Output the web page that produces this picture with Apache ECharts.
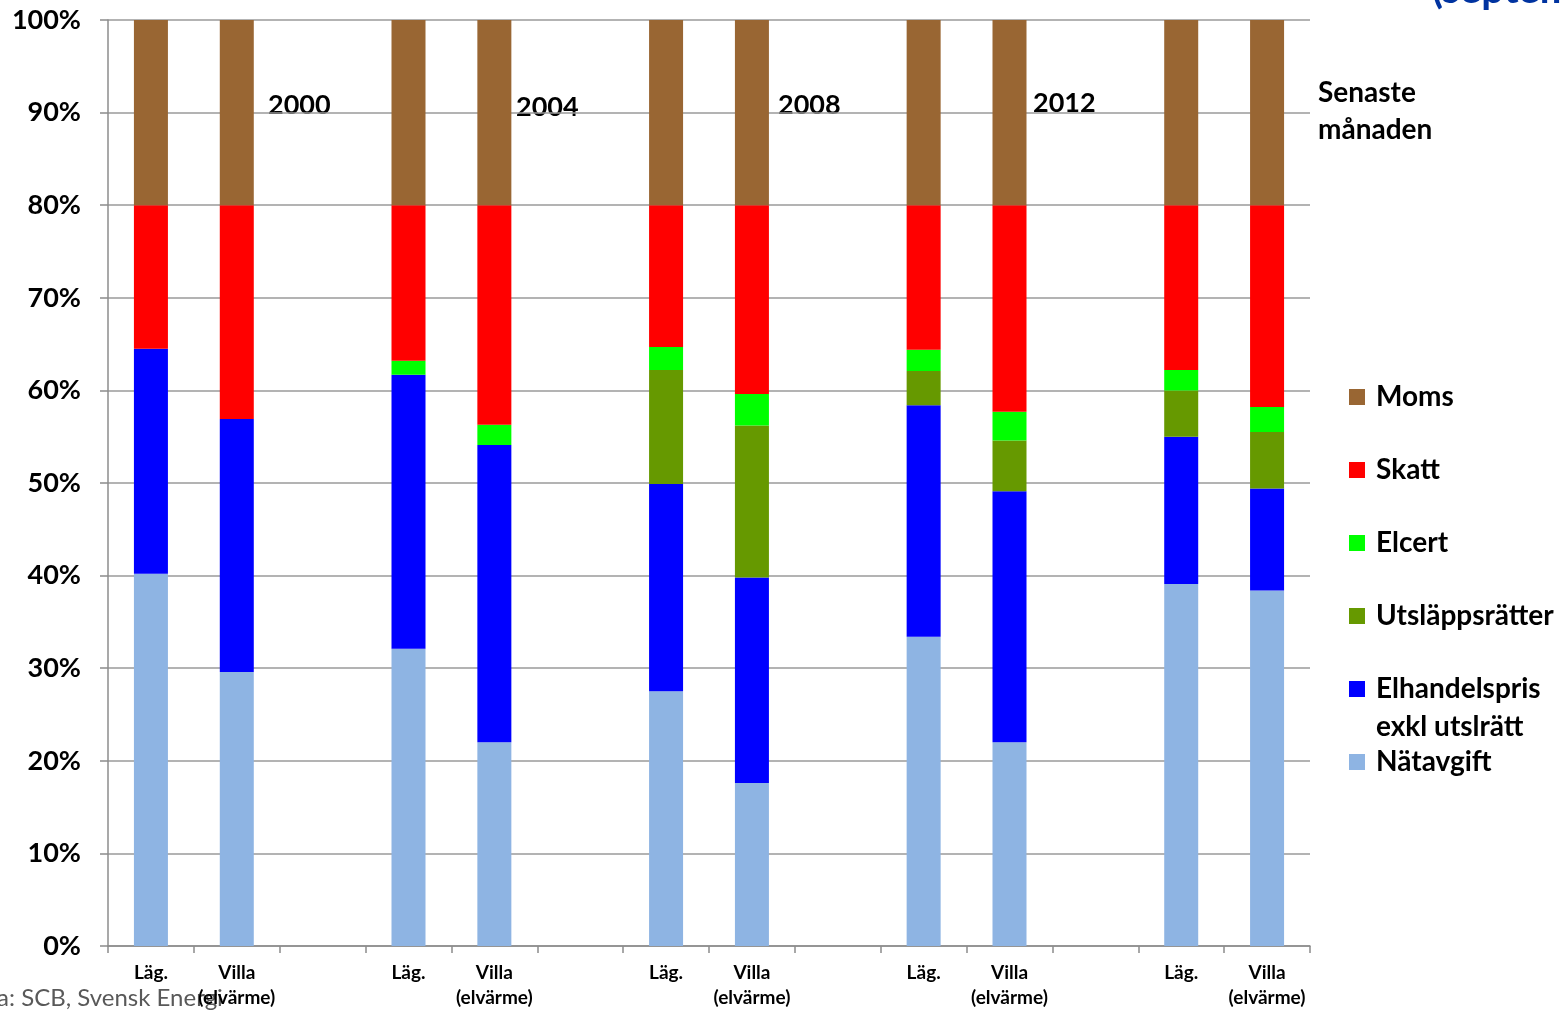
<!DOCTYPE html>
<html>
<head>
<meta charset="utf-8">
<script src="https://cdn.jsdelivr.net/npm/echarts@6/dist/echarts.min.js"></script>
<style>
html,body{margin:0;padding:0;background:#fff;overflow:hidden;}
#c{width:1564px;height:1010px;}
</style>
</head>
<body>
<div id="c"></div>
<script>
// ---- data ----
const categories = ['Läg.', 'Villa\n(elvärme)', '', 'Läg.', 'Villa\n(elvärme)', '', 'Läg.', 'Villa\n(elvärme)', '', 'Läg.', 'Villa\n(elvärme)', '', 'Läg.', 'Villa\n(elvärme)'];
const periodLabels = ['2000', '2004', '2008', '2012', 'Senaste\nmånaden'];
const natavgift   = [40.2, 29.6, null, 32.1, 22.0, null, 27.5, 17.6, null, 33.4, 22.0, null, 39.1, 38.4];
const elhandel    = [24.3, 27.3, null, 29.6, 32.1, null, 22.4, 22.2, null, 25.0, 27.1, null, 15.9, 11.0];
const utslapp     = [0, 0, null, 0, 0, null, 12.3, 16.4, null, 3.7, 5.5, null, 5.0, 6.1];
const elcert      = [0, 0, null, 1.5, 2.2, null, 2.5, 3.4, null, 2.3, 3.1, null, 2.2, 2.7];
const skatt       = [15.5, 23.1, null, 16.8, 23.7, null, 15.3, 20.4, null, 15.6, 22.3, null, 17.8, 21.8];
const moms        = [20, 20, null, 20, 20, null, 20, 20, null, 20, 20, null, 20, 20];
const yTicks = [0, 10, 20, 30, 40, 50, 60, 70, 80, 90, 100];

const FONT = 'Lato';
const ELH = 'Elhandelspris exkl utslrätt';
const seriesDefs = [
  {name: 'Nätavgift', data: natavgift, color: '#8EB4E3'},
  {name: ELH, data: elhandel, color: '#0000FF'},
  {name: 'Utsläppsrätter', data: utslapp, color: '#669900'},
  {name: 'Elcert', data: elcert, color: '#00FF00'},
  {name: 'Skatt', data: skatt, color: '#FF0000'},
  {name: 'Moms', data: moms, color: '#996633'}
];

const chart = echarts.init(document.getElementById('c'));

const legendCenters = {
  'Moms': 397, 'Skatt': 470, 'Elcert': 543, 'Utsläppsrätter': 616,
  [ELH]: 689, 'Nätavgift': 762
};
const legends = Object.keys(legendCenters).map(function (n) {
  const twoLine = n === ELH;
  return {
    data: [n],
    orient: 'vertical',
    left: 1349,
    top: twoLine ? legendCenters[n] - 57 : legendCenters[n] - 16,
    itemWidth: 16,
    itemHeight: 16,
    icon: 'rect',
    selectedMode: false,
    padding: 0,
    formatter: twoLine ? function () { return ' \nElhandelspris\nexkl utslrätt'; } : '{name}',
    textStyle: {
      fontFamily: FONT, fontWeight: 'bold', fontSize: 28, color: '#000',
      lineHeight: twoLine ? 38 : 32,
      padding: [0, 0, 0, 6]
    }
  };
});

const option = {
  backgroundColor: '#fff',
  animation: false,
  grid: {left: 108, right: 254, top: 20, bottom: 59, containLabel: false},
  legend: legends,
  xAxis: {
    type: 'category',
    data: categories,
    axisLine: {lineStyle: {color: '#8c8c8c', width: 1.5}},
    axisTick: {show: true, alignWithLabel: false, length: 7, lineStyle: {color: '#8c8c8c', width: 1.5}},
    axisLabel: {
      interval: 0, margin: 14,
      fontFamily: FONT, fontWeight: 'bold', fontSize: 19, color: '#000', lineHeight: 25
    }
  },
  yAxis: {
    type: 'value',
    min: 0, max: 100, interval: 10,
    axisLine: {show: true, lineStyle: {color: '#8c8c8c', width: 1.5}},
    axisTick: {show: true, length: 8, lineStyle: {color: '#8c8c8c', width: 1.5}},
    splitLine: {lineStyle: {color: '#9a9a9a', width: 1.5}},
    axisLabel: {
      margin: 27,
      formatter: function (v) { return yTicks.indexOf(v) >= 0 ? v + '%' : ''; },
      fontFamily: FONT, fontWeight: 'bold', fontSize: 27, color: '#000'
    }
  },
  series: seriesDefs.map(function (s) {
    return {
      name: s.name,
      type: 'bar',
      stack: 'total',
      barWidth: 34,
      data: s.data,
      itemStyle: {color: s.color},
      emphasis: {disabled: true}
    };
  }),
  graphic: [
    {type: 'text', left: 268, top: 92, style: {text: periodLabels[0], font: 'bold 27px ' + FONT, fill: '#000'}},
    {type: 'text', left: 516, top: 94, style: {text: periodLabels[1], font: 'bold 27px ' + FONT, fill: '#000'}},
    {type: 'text', left: 778, top: 92, style: {text: periodLabels[2], font: 'bold 27px ' + FONT, fill: '#000'}},
    {type: 'text', left: 1033, top: 90, style: {text: periodLabels[3], font: 'bold 27px ' + FONT, fill: '#000'}},
    {type: 'text', left: 1318, top: 74, style: {text: periodLabels[4], font: 'bold 28px ' + FONT, fill: '#000', lineHeight: 37}},
    {type: 'text', left: 1432, top: -30, style: {text: '(september)', font: 'bold 40px ' + FONT, fill: '#0033A0'}},
    {type: 'text', left: -42, top: 986, z: -1, style: {text: 'Källa: SCB, Svensk Energi', font: '24px ' + FONT, fill: '#595959'}}
  ]
};
chart.setOption(option);
</script>
</body>
</html>
